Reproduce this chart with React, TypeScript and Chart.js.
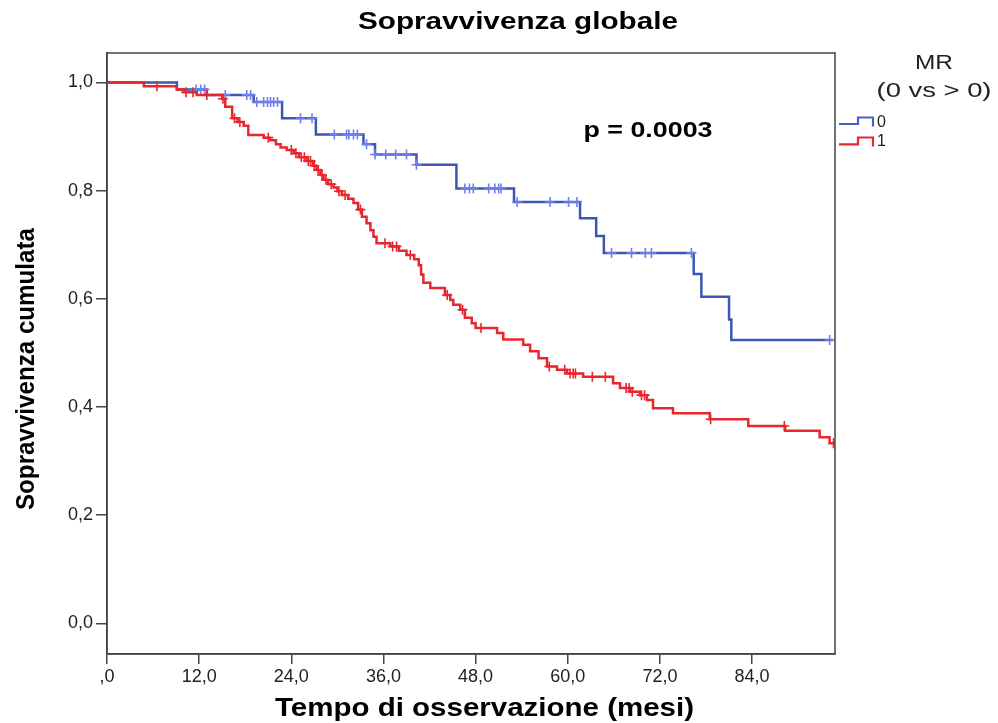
import React, { useEffect, useRef } from 'react';
import { Chart, registerables } from 'chart.js';
Chart.register(...registerables);

const FONT = '"Liberation Sans", Arial, Helvetica, sans-serif';

const xTicks = [0, 12, 24, 36, 48, 60, 72, 84];
const yTicks = [0, 0.2, 0.4, 0.6, 0.8, 1.0];
const xMax = 94.8;
const yMin = -0.0565;
const yMax = 1.0545;

// Group MR = 0 (blue): event times (months) and survival after each event
const blueTimes = [9.1, 13.0, 19.1, 22.8, 27.2, 33.4, 34.9, 40.3, 45.5, 53.0, 61.6, 63.7, 64.7, 76.4, 77.4, 81.0, 81.3];
const blueSurv = [0.987, 0.977, 0.964, 0.934, 0.904, 0.886, 0.867, 0.848, 0.804, 0.779, 0.749, 0.716, 0.685, 0.646, 0.604, 0.562, 0.524];
const blueCensored = [11.6, 12.2, 12.7, 15.4, 18.2, 18.7, 19.5, 20.4, 20.9, 21.3, 21.7, 22.2, 25.2, 26.7, 29.6, 31.2, 31.5, 32.1, 32.6, 33.8, 34.9, 36.3, 37.6, 39.0, 40.3, 46.6, 47.2, 47.7, 49.7, 50.5, 51.0, 51.3, 53.4, 57.7, 60.1, 61.2, 65.7, 68.3, 70.1, 70.9, 76.1, 94.1];
const blueEnd = 94.5;

// Group MR > 0 (red)
const redTimes = [4.8, 9.1, 10.0, 11.7, 15.0, 15.4, 16.3, 17.0, 17.8, 18.4, 20.4, 21.2, 22.0, 22.6, 23.4, 24.3, 25.0, 26.0, 26.8, 27.3, 27.8, 28.2, 28.8, 29.5, 30.0, 30.6, 31.4, 32.1, 32.7, 33.2, 33.8, 34.3, 34.7, 35.1, 36.9, 38.0, 39.0, 40.0, 40.6, 40.9, 41.2, 42.1, 44.0, 44.7, 45.1, 46.0, 46.6, 47.5, 48.0, 50.8, 51.6, 54.2, 55.1, 56.2, 57.3, 58.6, 59.9, 62.0, 65.9, 66.8, 68.1, 69.4, 70.3, 71.1, 73.7, 78.5, 83.5, 88.3, 92.8, 94.1];
const redSurv = [0.993, 0.987, 0.982, 0.977, 0.970, 0.955, 0.934, 0.927, 0.920, 0.903, 0.898, 0.893, 0.886, 0.880, 0.875, 0.869, 0.862, 0.855, 0.846, 0.838, 0.829, 0.820, 0.812, 0.806, 0.799, 0.792, 0.785, 0.777, 0.765, 0.752, 0.740, 0.727, 0.715, 0.703, 0.697, 0.689, 0.681, 0.673, 0.662, 0.645, 0.630, 0.620, 0.607, 0.598, 0.589, 0.580, 0.565, 0.555, 0.546, 0.537, 0.525, 0.515, 0.503, 0.490, 0.475, 0.469, 0.462, 0.456, 0.444, 0.435, 0.4285, 0.422, 0.413, 0.398, 0.3885, 0.3775, 0.365, 0.356, 0.344, 0.333];
const redCensored = [6.5, 10.3, 11.2, 13.0, 15.1, 16.6, 17.3, 21.0, 24.0, 24.6, 25.3, 25.7, 26.2, 26.5, 27.0, 27.5, 28.0, 28.5, 29.2, 30.2, 31.0, 33.0, 36.2, 37.2, 37.7, 39.5, 44.3, 46.3, 48.7, 57.6, 59.6, 60.3, 60.7, 61.0, 63.2, 64.9, 67.6, 68.0, 68.4, 69.6, 70.0, 78.6, 88.2, 94.6];
const redEnd = 94.8;

const BLUE = '#3d56b2';
const BLUE_TICK = '#6f80ee';
const RED = '#e8262e';

function stepPoints(times: number[], surv: number[], end: number) {
  const pts: { x: number; y: number }[] = [{ x: 0, y: 1 }];
  let prev = 1;
  times.forEach((t, i) => {
    pts.push({ x: t, y: prev });
    pts.push({ x: t, y: surv[i] });
    prev = surv[i];
  });
  pts.push({ x: end, y: prev });
  return pts;
}

function survAt(times: number[], surv: number[], t: number) {
  let s = 1;
  for (let i = 0; i < times.length; i++) if (times[i] <= t) s = surv[i];
  return s;
}

function censorPoints(times: number[], surv: number[], cens: number[]) {
  return cens.map((t) => ({ x: t, y: survAt(times, surv, t) }));
}

function fitText(ctx: CanvasRenderingContext2D, text: string, x: number, y: number, font: string, width: number, color: string, rot = 0) {
  ctx.save();
  ctx.font = font;
  ctx.fillStyle = color;
  ctx.textAlign = 'center';
  ctx.textBaseline = 'middle';
  const w = ctx.measureText(text).width;
  ctx.translate(x, y);
  if (rot) ctx.rotate(rot);
  ctx.scale(width / w, 1);
  ctx.fillText(text, 0, 0);
  ctx.restore();
}

const decor = {
  id: 'decor',
  afterDraw(chart: any) {
    const ctx: CanvasRenderingContext2D = chart.ctx;
    const a = chart.chartArea;
    ctx.save();
    ctx.strokeStyle = '#444';
    ctx.lineWidth = 1.5;
    ctx.strokeRect(a.left, a.top, a.right - a.left, a.bottom - a.top);
    ctx.restore();

    fitText(ctx, 'Sopravvivenza globale', 518, 23, `bold 23px ${FONT}`, 320, '#000');
    fitText(ctx, 'Tempo di osservazione (mesi)', 484.5, 709, `bold 26px ${FONT}`, 419, '#000');
    fitText(ctx, 'Sopravvivenza cumulata', 27, 369, `bold 25px ${FONT}`, 282, '#000', -Math.PI / 2);
    fitText(ctx, 'p = 0.0003', 648, 131, `bold 22px ${FONT}`, 129, '#000');
    fitText(ctx, 'MR', 934, 63, `21px ${FONT}`, 38, '#222');
    fitText(ctx, '(0 vs > 0)', 934, 91, `21px ${FONT}`, 115, '#222');

    // legend symbols
    const sym = (color: string, yLow: number, yHigh: number, yEnd: number) => {
      ctx.save();
      ctx.strokeStyle = color;
      ctx.lineWidth = 2.2;
      ctx.beginPath();
      ctx.moveTo(839, yLow);
      ctx.lineTo(858, yLow);
      ctx.lineTo(858, yHigh);
      ctx.lineTo(873, yHigh);
      ctx.lineTo(873, yEnd);
      ctx.stroke();
      ctx.restore();
    };
    sym('#4a62c8', 124, 117.5, 126.5);
    sym(RED, 144.3, 137.5, 146.5);
    ctx.save();
    ctx.font = `16px ${FONT}`;
    ctx.fillStyle = '#222';
    ctx.textAlign = 'left';
    ctx.textBaseline = 'middle';
    ctx.fillText('0', 877, 123);
    ctx.fillText('1', 877, 142);
    ctx.restore();
  },
};

export default function App() {
  const ref = useRef<HTMLCanvasElement | null>(null);
  useEffect(() => {
    document.body.style.margin = '0';
    const canvas = ref.current!;
    const chart = new Chart(canvas, {
      type: 'scatter',
      data: {
        datasets: [
          {
            label: 'cens1',
            data: censorPoints(redTimes, redSurv, redCensored),
            showLine: false,
            pointStyle: 'cross',
            pointRadius: 5,
            borderColor: RED,
            backgroundColor: RED,
            borderWidth: 1.6,
          },
          {
            label: '1',
            data: stepPoints(redTimes, redSurv, redEnd),
            showLine: true,
            pointRadius: 0,
            borderColor: RED,
            borderWidth: 2.5,
            tension: 0,
          },
          {
            label: 'cens0',
            data: censorPoints(blueTimes, blueSurv, blueCensored),
            showLine: false,
            pointStyle: 'cross',
            pointRadius: 5,
            borderColor: BLUE_TICK,
            backgroundColor: BLUE_TICK,
            borderWidth: 1.6,
          },
          {
            label: '0',
            data: stepPoints(blueTimes, blueSurv, blueEnd),
            showLine: true,
            pointRadius: 0,
            borderColor: BLUE,
            borderWidth: 2.5,
            tension: 0,
          },
        ],
      } as any,
      options: {
        animation: false,
        responsive: false,
        devicePixelRatio: 1,
        layout: { padding: { left: 0, top: 53, right: 163, bottom: 0 } },
        plugins: {
          legend: { display: false },
          tooltip: { enabled: false },
          title: { display: false },
        },
        scales: {
          x: {
            type: 'linear',
            min: 0,
            max: xMax,
            afterBuildTicks: (s: any) => {
              s.ticks = xTicks.map((v) => ({ value: v }));
            },
            afterFit: (s: any) => {
              s.height = 69;
            },
            ticks: {
              font: { family: FONT, size: 18 },
              color: '#222',
              padding: 2,
              maxRotation: 0,
              autoSkip: false,
              callback: (v: any) => (v === 0 ? ',0' : Number(v).toFixed(1).replace('.', ',')),
            },
            grid: { drawOnChartArea: false, drawTicks: true, tickLength: 10, color: '#444', lineWidth: 1.5 },
            border: { display: true, color: '#444', width: 1.5 },
          },
          y: {
            type: 'linear',
            min: yMin,
            max: yMax,
            afterBuildTicks: (s: any) => {
              s.ticks = yTicks.map((v) => ({ value: v }));
            },
            afterFit: (s: any) => {
              s.width = 107;
            },
            ticks: {
              font: { family: FONT, size: 18 },
              color: '#222',
              padding: 3,
              autoSkip: false,
              callback: (v: any) => Number(v).toFixed(1).replace('.', ','),
            },
            grid: { drawOnChartArea: false, drawTicks: true, tickLength: 11, color: '#444', lineWidth: 1.5 },
            border: { display: true, color: '#444', width: 1.5 },
          },
        },
      } as any,
      plugins: [decor],
    });
    return () => chart.destroy();
  }, []);
  return (
    <div style={{ width: 998, height: 723 }}>
      <canvas ref={ref} width={998} height={723} style={{ display: 'block' }} />
    </div>
  );
}
